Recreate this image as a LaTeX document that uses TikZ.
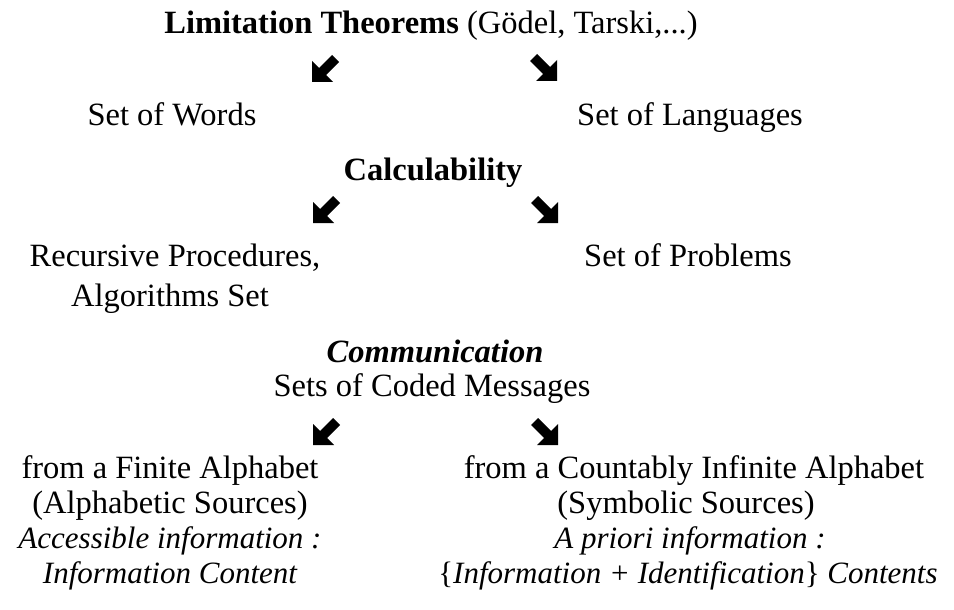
\documentclass[tikz,border=0pt]{standalone}
\usepackage{fontspec}
\setmainfont{Liberation Serif}
\begin{document}
\begin{tikzpicture}[x=1pt,y=-1pt,
  txt/.style={anchor=base,inner sep=0pt,font=\fontsize{32.5}{39}\selectfont},
  itxt/.style={anchor=base,inner sep=0pt,font=\fontsize{31}{37}\selectfont\itshape},
  pics/dlarrow/.style={code={
    \fill[black,yscale=-1] (0,0) -- (0,21) -- (7,14) -- (20,27) -- (27,20) -- (14,7) -- (21,0) -- cycle;}},
  pics/drarrow/.style={code={
    \fill[black,yscale=-1,xscale=-1] (0,0) -- (0,21) -- (7,14) -- (20,27) -- (27,20) -- (14,7) -- (21,0) -- cycle;}}]
\useasboundingbox (0,0) rectangle (954,610);

% top level
\node[txt] (lim) at (431,34) {\textbf{Limitation Theorems} (Gödel, Tarski,...)};
\pic at (312,82) {dlarrow};
\pic at (557,81) {drarrow};
\node[txt] (words) at (172,125) {Set of Words};
\node[txt] (langs) at (690,125) {Set of Languages};

% calculability
\node[txt] (calc) at (433,180) {\textbf{Calculability}};
\pic at (313,223) {dlarrow};
\pic at (558,223) {drarrow};
\node[txt] (rec) at (175,266) {Recursive Procedures,};
\node[txt] (algo) at (170,306) {Algorithms Set};
\node[txt] (probs) at (688,266) {Set of Problems};

% communication
\node[txt] (comm) at (435,362) {\textbf{\textit{Communication}}};
\node[txt] (coded) at (432,396) {Sets of Coded Messages};
\pic at (313,445) {dlarrow};
\pic at (558,445) {drarrow};

% left branch
\node[txt] (fin) at (170,478) {from a Finite Alphabet};
\node[txt] (alpha) at (170,513) {(Alphabetic Sources)};
\node[itxt] (acc) at (170,548) {Accessible information :};
\node[itxt] (infc) at (170,583) {Information Content};

% right branch
\node[txt] (inf) at (694,478) {from a Countably Infinite Alphabet};
\node[txt] (symb) at (686,513) {(Symbolic Sources)};
\node[itxt] (apr) at (690,548) {A priori information :};
\node[itxt] (idc) at (688,583) {\upshape\{\itshape Information + Identification\upshape\} \itshape Contents};
\end{tikzpicture}
\end{document}
